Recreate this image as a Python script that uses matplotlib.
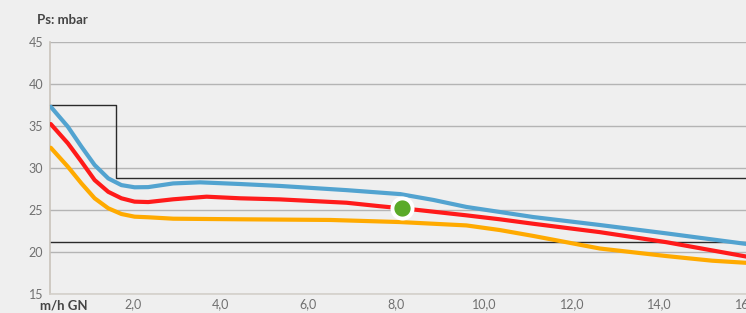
import matplotlib
matplotlib.use("Agg")
import matplotlib.pyplot as plt

# ---- data ----
blue_x = [0.13, 0.52, 0.83, 1.13, 1.44, 1.74, 2.04, 2.35, 2.92, 3.53, 4.44, 5.35, 6.87, 8.09, 8.85,
          9.6, 11.12, 12.64, 14.16, 15.97]
blue_y = [37.33, 34.95, 32.57, 30.39, 28.8, 28.0, 27.74, 27.76, 28.2, 28.33, 28.13, 27.9, 27.4, 26.93, 26.23,
          25.4, 24.2, 23.25, 22.25, 21.0]

red_x = [0.13, 0.52, 0.83, 1.13, 1.44, 1.74, 2.04, 2.35, 2.92, 3.68, 4.44, 5.35, 6.87, 7.6, 8.39,
         9.6, 10.36, 11.12, 12.64, 14.16, 15.97]
red_y = [35.27, 32.98, 30.79, 28.6, 27.2, 26.43, 26.03, 25.98, 26.31, 26.62, 26.43, 26.3, 25.9, 25.5, 25.1,
         24.4, 23.93, 23.4, 22.4, 21.2, 19.5]

orange_x = [0.13, 0.52, 0.83, 1.13, 1.44, 1.74, 2.04, 2.35, 2.92, 4.44, 6.5, 8.09, 9.6, 10.36, 11.12, 12.64,
            14.16, 15.2, 15.97]
orange_y = [32.45, 30.19, 28.2, 26.43, 25.24, 24.56, 24.24, 24.17, 24.0, 23.93, 23.85, 23.6, 23.2, 22.65, 21.95, 20.45,
            19.55, 19.0, 18.75]

point_x, point_y = 8.13, 25.25

box_x = [0.12, 1.62, 1.62, 16.5]
box_y = [37.5, 37.5, 28.8, 28.8]
low_limit = 21.2

y_ticks = [15, 20, 25, 30, 35, 40, 45]
x_ticks = [2, 4, 6, 8, 10, 12, 14, 16]
x_labels = ["2,0", "4,0", "6,0", "8,0", "10,0", "12,0", "14,0", "16,0"]

# ---- figure ----
bg = "#efefef"
fig = plt.figure(figsize=(7.46, 3.13), dpi=100, facecolor=bg)
ax = fig.add_axes([50.3 / 746, 1 - 294.3 / 313, 1 - 50.3 / 746 + 0.05, (294.3 - 42.3) / 313])
ax.set_facecolor(bg)
ax.set_xlim(0.12, 15.97 + 0.05 * 746 / 43.9)
ax.set_ylim(15, 45)

for v in y_ticks:
    ax.axhline(v, color="#b4b4b4", lw=1.0, zorder=1)

ax.plot(box_x, box_y, color="#2a2a2a", lw=1.0, zorder=2, clip_on=False)
ax.axhline(low_limit, color="#2a2a2a", lw=1.0, zorder=2)

ax.plot(orange_x, orange_y, color="#ffaa00", lw=3.0, zorder=3, solid_capstyle="round", solid_joinstyle="round")
ax.plot(red_x, red_y, color="#ff1a1a", lw=3.0, zorder=4, solid_capstyle="round", solid_joinstyle="round")
ax.plot(blue_x, blue_y, color="#52a3d0", lw=3.0, zorder=5, solid_capstyle="round", solid_joinstyle="round")
ax.plot([point_x], [point_y], "o", color="#5aaa28", ms=14.5, mec="white", mew=2.8, zorder=6)

for s in ["top", "right"]:
    ax.spines[s].set_visible(False)
ax.spines["left"].set_color("#c9c3bb")
ax.spines["bottom"].set_color("#d4d0ca")
ax.spines["left"].set_linewidth(1.2)
ax.spines["bottom"].set_linewidth(1.2)

fam = ["Lato", "DejaVu Sans"]
ax.set_yticks(y_ticks)
ax.set_yticklabels([str(v) for v in y_ticks], fontsize=9, color="#707070", family=fam)
ax.set_xticks(x_ticks)
ax.set_xticklabels(x_labels, fontsize=9, color="#707070", family=fam)
ax.tick_params(axis="y", length=0, pad=5)
ax.tick_params(axis="x", length=0, pad=3)

fig.text(37 / 746, 1 - 20 / 313, "Ps: mbar", fontsize=9.5, fontweight="bold", color="#444444",
         family=fam, ha="left", va="center")
fig.text(40 / 746, 1 - 306 / 313, "m/h GN", fontsize=9.5, fontweight="bold", color="#444444",
         family=fam, ha="left", va="center")

fig.savefig("out.png", dpi=100, facecolor=bg)
